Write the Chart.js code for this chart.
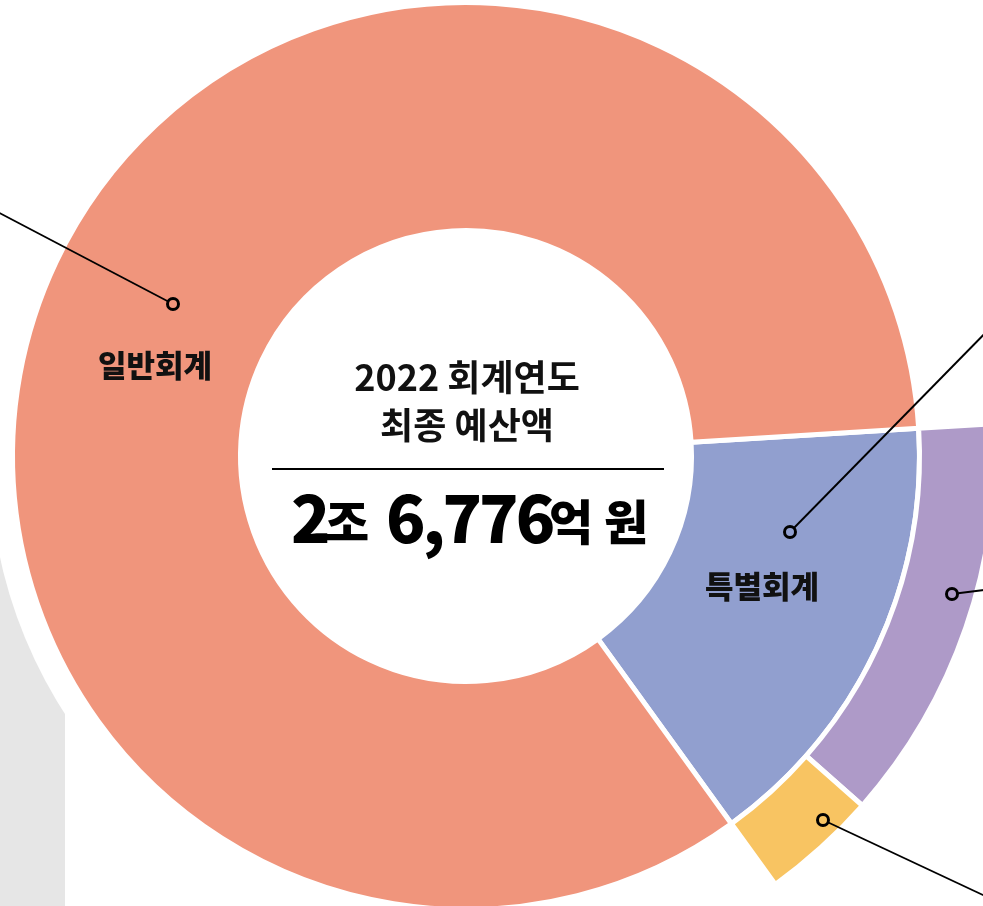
<!DOCTYPE html>
<html lang="ko">
<head>
<meta charset="utf-8">
<title>2022 회계연도 최종 예산액</title>
<script src="https://cdn.jsdelivr.net/npm/chart.js@4/dist/chart.umd.min.js"></script>
<style>
  html, body { margin: 0; padding: 0; background: #fff; overflow: hidden; width: 983px; height: 906px; }
  #budgetChart { position: absolute; left: -84px; top: -94px; }
</style>
</head>
<body>
<canvas id="budgetChart" width="1100" height="1100"></canvas>
<script>
// 단위: 억 원
let accountLabels = ["특별회계", "일반회계"];
let accountValues = [4290, 22486];
let specialLabels = ["특별회계 A", "특별회계 B"];
let specialValues = [3340, 950];

let colors = {
  general: "#F0957C",
  special: "#919FCF",
  purple: "#AE9AC8",
  yellow: "#F8C462",
  gray: "#E6E6E6"
};

const FONT = '"Noto Sans CJK KR", "Noto Sans", sans-serif';

// offsets from doughnut centre, used for the labels and leader lines
let callouts = [
  { marker: [-293, -152], end: [-476, -248], fill: colors.general },
  { marker: [324, 76], end: [534, -138], fill: colors.special },
  { marker: [486, 138], end: [534, 132], fill: colors.purple },
  { marker: [357, 364], end: [534, 447], fill: colors.yellow }
];

const backdrop = {
  id: "backdrop",
  beforeDatasetsDraw(chart) {
    const arc = chart.getDatasetMeta(1).data[0];
    const ctx = chart.ctx;
    const ox = arc.x - 466, oy = arc.y - 456;
    ctx.save();
    ctx.fillStyle = colors.gray;
    ctx.fillRect(ox + 0, oy + 420, 65, 520);
    ctx.fillStyle = "#fff";
    ctx.beginPath();
    ctx.arc(arc.x, arc.y, 477, 0, Math.PI * 2);
    ctx.fill();
    ctx.restore();
  }
};

const annotations = {
  id: "annotations",
  afterDatasetsDraw(chart) {
    const arc = chart.getDatasetMeta(1).data[0];
    const cx = arc.x, cy = arc.y;
    const ctx = chart.ctx;
    ctx.save();

    // leader lines + markers
    callouts.forEach(function(c) {
      ctx.strokeStyle = "#000";
      ctx.lineWidth = 1.9;
      ctx.beginPath();
      ctx.moveTo(cx + c.marker[0], cy + c.marker[1]);
      ctx.lineTo(cx + c.end[0], cy + c.end[1]);
      ctx.stroke();
      ctx.lineWidth = 3;
      ctx.fillStyle = c.fill;
      ctx.beginPath();
      ctx.arc(cx + c.marker[0], cy + c.marker[1], 5.5, 0, Math.PI * 2);
      ctx.fill();
      ctx.stroke();
    });

    // segment labels
    ctx.fillStyle = "#111";
    ctx.textAlign = "center";
    ctx.textBaseline = "middle";
    ctx.font = "900 31px " + FONT;
    ctx.fillText(accountLabels[1], cx - 311, cy - 91);
    ctx.fillText(accountLabels[0], cx + 296, cy + 130);

    // centre title
    ctx.font = "600 36px " + FONT;
    ctx.fillText("2022 회계연도", cx + 1, cy - 79);
    ctx.fillText("최종 예산액", cx + 1, cy - 31);

    ctx.strokeStyle = "#000";
    ctx.lineWidth = 2;
    ctx.beginPath();
    ctx.moveTo(cx - 194, cy + 13);
    ctx.lineTo(cx + 198, cy + 13);
    ctx.stroke();

    // total
    const total = accountValues[0] + accountValues[1];
    const jo = Math.floor(total / 10000);
    const eok = (total % 10000).toLocaleString("en-US");
    ctx.fillStyle = "#000";
    ctx.textAlign = "left";
    ctx.textBaseline = "alphabetic";
    ctx.font = "900 65px " + FONT;
    ctx.letterSpacing = "-3px";
    ctx.fillText(String(jo), cx - 175, cy + 87);
    ctx.fillText(eok, cx - 80, cy + 87);
    ctx.letterSpacing = "0px";
    ctx.font = "900 48px " + FONT;
    ctx.fillText("조", cx - 141, cy + 84);
    ctx.fillText("억", cx + 83, cy + 84);
    ctx.fillText("원", cx + 138, cy + 84);

    ctx.restore();
  }
};

new Chart(document.getElementById("budgetChart"), {
  type: "doughnut",
  data: {
    labels: accountLabels,
    datasets: [
      {
        label: "특별회계 세부",
        data: [specialValues[0], specialValues[1], accountValues[1]],
        backgroundColor: [colors.purple, colors.yellow, "rgba(0,0,0,0)"],
        borderColor: "#fff",
        borderWidth: [5, 5, 0],
        weight: 75
      },
      {
        label: "회계",
        data: accountValues,
        backgroundColor: [colors.special, colors.general],
        borderColor: "#fff",
        borderWidth: 5,
        weight: 228
      }
    ]
  },
  options: {
    responsive: false,
    animation: false,
    events: [],
    rotation: 86.5,
    radius: 528.5,
    cutout: "42.67%",
    layout: { padding: 0 },
    plugins: {
      legend: { display: false },
      tooltip: { enabled: false }
    }
  },
  plugins: [backdrop, annotations]
});
</script>
</body>
</html>
